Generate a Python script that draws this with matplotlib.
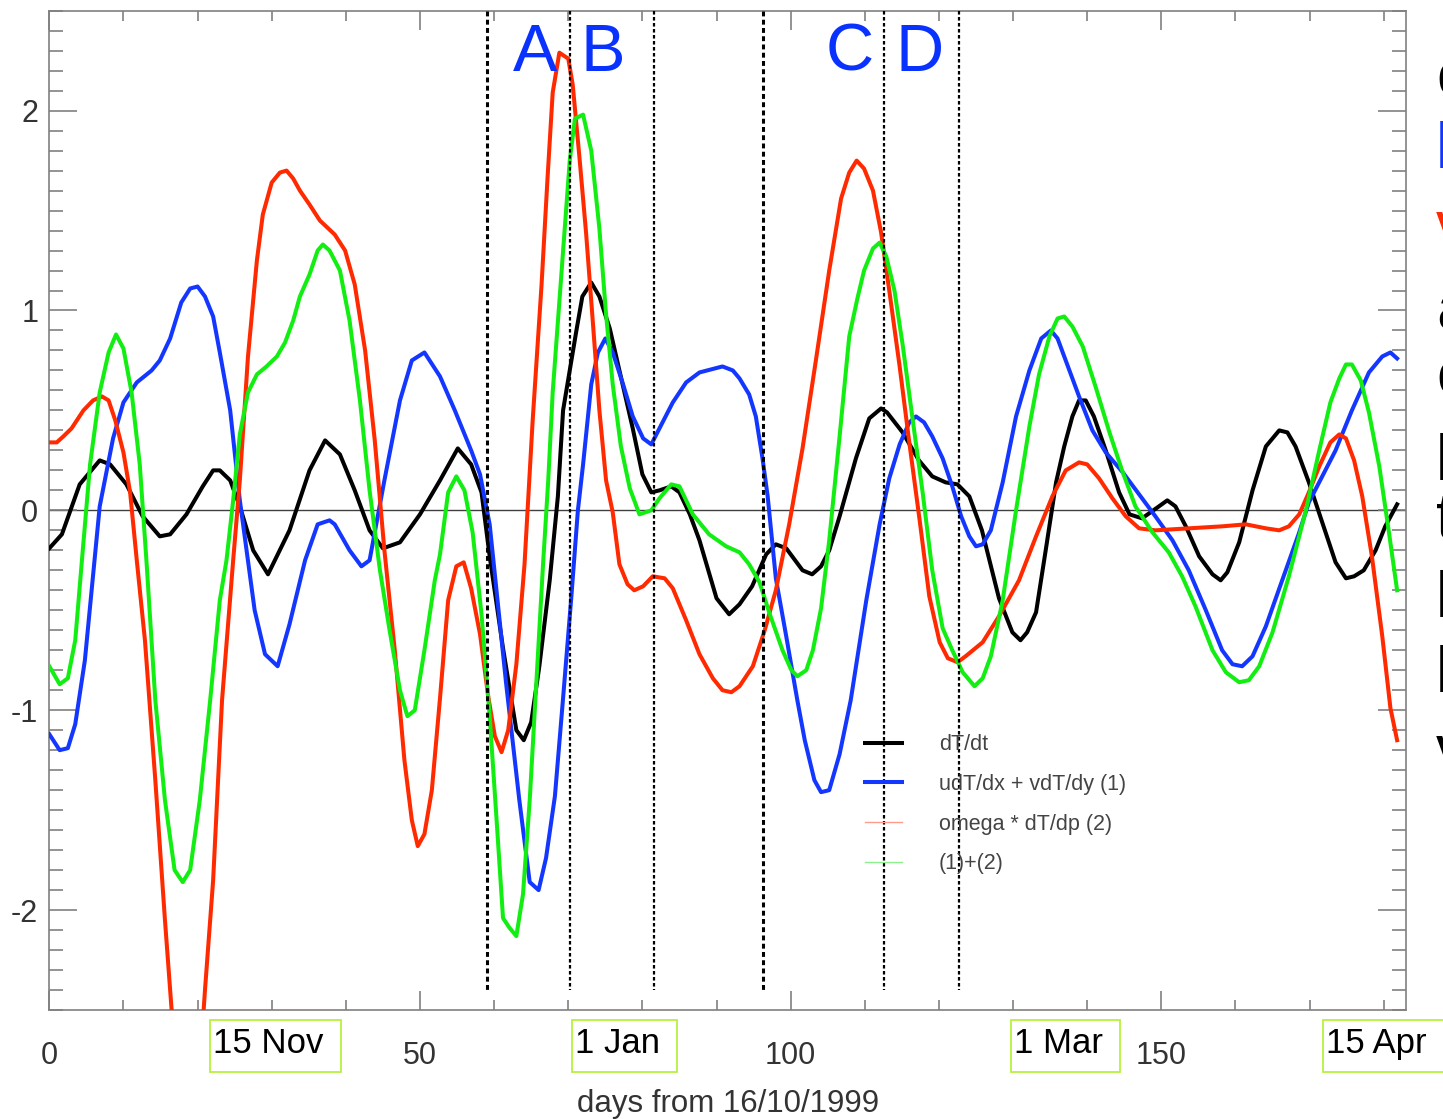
import matplotlib
matplotlib.use("Agg")
import matplotlib.pyplot as plt
from matplotlib.lines import Line2D
from matplotlib.patches import Rectangle
from matplotlib.transforms import blended_transform_factory, offset_copy, IdentityTransform
from matplotlib.ticker import MultipleLocator

plt.rcParams['font.family'] = ['Liberation Sans', 'DejaVu Sans']

# ---- data ----
black_days = [0, 1.7, 4.1, 6.8, 8.2, 10.4, 12.6, 14.9, 16.3, 18.5, 20.7, 22.1, 23.0, 24.4, 25.7, 27.5, 29.5,
              32.4, 35.1, 37.2, 39.2, 41.2, 43.2, 45.0, 47.3, 50.0, 52.7, 55.1, 56.9, 58.3, 59.4, 61.2, 63.0,
              64.0, 65.0, 66.1, 67.5, 68.6, 69.3, 71.1, 71.9, 73.1, 74.2, 75.6, 76.9, 78.7, 80.0, 81.2, 82.3,
              83.9, 85.0, 86.4, 87.7, 90.0, 91.7, 93.1, 94.8, 96.7, 98.0, 99.4, 101.6, 102.9, 104.1, 105.2,
              106.6, 108.8, 110.6, 112.2, 113.0, 115.1, 117.3, 119.1, 120.9, 122.5, 124.1, 125.8, 128.1,
              129.9, 131.0, 131.9, 133.1, 134.4, 135.8, 136.9, 138.0, 138.9, 139.8, 140.9, 142.5, 144.3,
              145.7, 147.4, 149.3, 150.8, 151.9, 153.3, 155.1, 156.9, 158.0, 158.9, 160.5, 162.3, 164.1,
              165.9, 167.0, 168.1, 169.9, 171.7, 173.5, 174.9, 176.0, 177.3, 178.9, 180.2, 181.8]
black_vals = [-0.19, -0.12, 0.13, 0.25, 0.23, 0.13, -0.03, -0.13, -0.12, -0.02, 0.12, 0.2, 0.2, 0.15, 0.02,
              -0.2, -0.32, -0.1, 0.2, 0.35, 0.28, 0.1, -0.1, -0.19, -0.16, -0.02, 0.15, 0.31, 0.23, 0.09,
              -0.23, -0.69, -1.1, -1.15, -1.06, -0.78, -0.35, 0.07, 0.5, 0.9, 1.07, 1.14, 1.07, 0.91, 0.7,
              0.41, 0.18, 0.09, 0.1, 0.12, 0.09, -0.02, -0.15, -0.44, -0.52, -0.47, -0.38, -0.22, -0.17,
              -0.19, -0.3, -0.32, -0.28, -0.2, -0.03, 0.26, 0.46, 0.51, 0.49, 0.39, 0.25, 0.17, 0.14, 0.13,
              0.07, -0.1, -0.44, -0.61, -0.65, -0.61, -0.51, -0.2, 0.14, 0.32, 0.47, 0.55, 0.55, 0.47, 0.3,
              0.09, -0.02, -0.04, 0.01, 0.05, 0.02, -0.08, -0.23, -0.32, -0.35, -0.31, -0.16, 0.1, 0.32,
              0.4, 0.39, 0.32, 0.14, -0.06, -0.26, -0.34, -0.33, -0.3, -0.2, -0.08, 0.03]

blue_days = [0, 1.4, 2.5, 3.5, 4.8, 6.8, 8.6, 10.0, 11.8, 13.8, 14.9, 16.3, 17.8, 19.0, 20.0, 21.0, 22.1,
             23.0, 24.4, 25.7, 27.7, 29.1, 30.8, 32.4, 34.5, 36.2, 37.8, 38.5, 40.5, 42.1, 43.2, 45.2, 47.3,
             48.9, 50.6, 52.7, 54.7, 56.9, 58.1, 59.4, 61.6, 63.4, 64.8, 66.0, 67.0, 68.2, 69.3, 70.4, 71.3,
             72.0, 73.1, 74.0, 75.0, 76.0, 77.4, 78.7, 80.1, 81.2, 82.3, 84.1, 85.9, 87.7, 90.8, 92.2, 93.1,
             94.4, 95.3, 96.2, 96.9, 98.0, 99.4, 100.9, 101.9, 103.2, 104.1, 105.2, 106.6, 108.1, 110.2,
             112.0, 113.3, 114.7, 116.0, 116.9, 118.0, 119.1, 120.5, 121.8, 123.0, 124.1, 125.0, 125.9,
             127.0, 128.6, 130.4, 132.2, 133.8, 135.1, 136.0, 137.1, 138.9, 140.7, 142.5, 144.8, 147.0,
             149.2, 151.5, 153.7, 156.0, 158.2, 159.6, 160.9, 162.3, 164.1, 166.3, 168.6, 169.9, 171.7,
             173.5, 175.7, 178.0, 179.8, 180.9, 181.8]
blue_vals = [-1.12, -1.2, -1.19, -1.07, -0.75, 0.02, 0.36, 0.54, 0.64, 0.7, 0.75, 0.86, 1.04, 1.11, 1.12,
             1.07, 0.97, 0.79, 0.5, 0.05, -0.5, -0.72, -0.78, -0.57, -0.25, -0.07, -0.05, -0.07, -0.2,
             -0.28, -0.25, 0.15, 0.55, 0.75, 0.79, 0.67, 0.5, 0.3, 0.18, -0.07, -0.86, -1.45, -1.86, -1.9,
             -1.74, -1.43, -0.94, -0.44, 0.0, 0.23, 0.63, 0.79, 0.86, 0.79, 0.63, 0.47, 0.36, 0.33, 0.41,
             0.54, 0.64, 0.69, 0.72, 0.7, 0.66, 0.58, 0.47, 0.26, 0.07, -0.34, -0.63, -0.95, -1.15, -1.35,
             -1.41, -1.4, -1.22, -0.95, -0.45, -0.07, 0.16, 0.33, 0.44, 0.47, 0.44, 0.37, 0.26, 0.12, -0.03,
             -0.13, -0.18, -0.17, -0.1, 0.14, 0.47, 0.7, 0.86, 0.9, 0.86, 0.75, 0.57, 0.4, 0.29, 0.19, 0.08,
             -0.03, -0.15, -0.3, -0.5, -0.7, -0.77, -0.78, -0.73, -0.58, -0.35, -0.11, 0.04, 0.17, 0.3, 0.5,
             0.69, 0.77, 0.79, 0.76]

red_days = [0, 1.0, 1.9, 3.0, 4.6, 5.9, 7.1, 8.0, 8.9, 10.0, 10.9, 11.8, 12.9, 14.3, 15.6, 16.9, 19.0, 20.0,
            21.0, 22.1, 23.3, 24.8, 25.7, 26.8, 28.0, 28.8, 30.0, 31.1, 32.0, 32.9, 33.8, 35.1, 36.5, 38.5,
            39.9, 41.2, 42.6, 43.9, 45.2, 46.6, 47.9, 48.9, 49.7, 50.6, 51.6, 52.7, 53.8, 54.9, 55.9, 56.9,
            58.1, 59.2, 60.1, 61.0, 61.9, 63.0, 64.1, 65.2, 66.4, 67.2, 67.9, 68.8, 70.0, 70.6, 71.5, 72.4,
            73.3, 74.2, 75.1, 76.0, 76.9, 78.0, 78.9, 80.1, 81.4, 83.0, 84.1, 85.9, 87.7, 89.5, 90.8, 92.0,
            93.1, 94.9, 96.5, 98.0, 99.8, 101.6, 103.4, 105.2, 106.8, 107.9, 108.9, 109.9, 111.1, 112.2,
            113.3, 114.7, 116.0, 117.4, 118.7, 120.1, 121.2, 122.5, 123.6, 125.9, 128.1, 130.8, 133.1,
            135.3, 137.1, 138.9, 140.0, 141.6, 143.4, 145.2, 147.0, 149.2, 153.7, 158.2, 161.4, 164.1,
            165.9, 167.2, 168.6, 169.9, 171.3, 172.8, 174.0, 174.9, 176.0, 177.1, 178.4, 179.8, 180.9, 181.8]
red_vals = [0.34, 0.34, 0.37, 0.41, 0.5, 0.55, 0.57, 0.55, 0.45, 0.29, 0.09, -0.25, -0.65, -1.35, -2.05,
            -2.7, -3.1, -2.95, -2.4, -1.85, -0.95, -0.25, 0.15, 0.77, 1.25, 1.48, 1.64, 1.69, 1.7, 1.66, 1.6,
            1.53, 1.45, 1.38, 1.3, 1.13, 0.8, 0.35, -0.2, -0.7, -1.25, -1.55, -1.68, -1.62, -1.4, -0.94,
            -0.45, -0.28, -0.26, -0.39, -0.62, -0.93, -1.13, -1.21, -1.1, -0.77, -0.27, 0.45, 1.13, 1.66,
            2.09, 2.29, 2.26, 2.13, 1.77, 1.39, 0.95, 0.5, 0.15, -0.01, -0.27, -0.37, -0.4, -0.38, -0.33,
            -0.34, -0.39, -0.55, -0.72, -0.84, -0.9, -0.91, -0.88, -0.78, -0.6, -0.4, -0.07, 0.31, 0.75, 1.2,
            1.56, 1.69, 1.75, 1.71, 1.6, 1.39, 1.1, 0.72, 0.34, -0.05, -0.43, -0.66, -0.74, -0.76, -0.73,
            -0.66, -0.53, -0.35, -0.13, 0.07, 0.2, 0.24, 0.23, 0.16, 0.06, -0.03, -0.09, -0.1, -0.09, -0.08,
            -0.07, -0.09, -0.1, -0.08, -0.02, 0.09, 0.22, 0.34, 0.38, 0.36, 0.25, 0.07, -0.23, -0.63, -0.99,
            -1.15]

green_days = [0, 1.4, 2.5, 3.5, 4.4, 5.5, 6.8, 8.0, 9.0, 10.0, 11.1, 12.2, 13.1, 14.3, 15.6, 16.9, 18.0,
              19.0, 20.3, 21.7, 23.0, 23.9, 24.8, 25.7, 26.8, 28.0, 29.3, 30.7, 31.8, 32.9, 33.8, 35.1, 36.2,
              36.9, 37.8, 39.2, 40.5, 41.9, 43.2, 44.6, 45.9, 47.3, 48.3, 49.3, 50.6, 52.0, 52.7, 53.8, 54.9,
              56.0, 57.1, 58.3, 59.4, 60.3, 61.2, 62.1, 63.0, 63.9, 64.8, 65.7, 66.6, 67.3, 67.9, 69.3, 70.2,
              70.9, 72.0, 73.1, 74.2, 75.1, 76.0, 77.1, 78.3, 79.6, 81.2, 82.3, 83.9, 85.0, 86.8, 89.0, 91.3,
              93.1, 94.4, 95.8, 97.1, 98.9, 100.1, 100.9, 102.1, 103.0, 104.1, 105.2, 106.6, 107.9, 109.0,
              109.9, 111.1, 112.0, 112.9, 114.0, 115.1, 116.4, 117.8, 119.1, 120.5, 121.8, 123.2, 124.8,
              125.9, 127.0, 128.6, 130.4, 132.2, 133.5, 134.9, 136.0, 136.9, 138.0, 139.4, 141.2, 143.0,
              144.7, 146.5, 148.8, 151.0, 152.8, 154.6, 156.9, 158.7, 160.5, 161.8, 163.2, 165.0, 167.2,
              169.5, 171.3, 172.8, 174.0, 174.9, 175.7, 176.9, 178.0, 179.4, 180.7, 181.8]
green_vals = [-0.78, -0.87, -0.84, -0.65, -0.25, 0.23, 0.59, 0.79, 0.88, 0.81, 0.59, 0.23, -0.25, -0.95,
              -1.45, -1.8, -1.86, -1.8, -1.45, -0.95, -0.45, -0.25, 0.05, 0.38, 0.59, 0.68, 0.72, 0.77, 0.84,
              0.95, 1.07, 1.18, 1.3, 1.33, 1.3, 1.2, 0.95, 0.55, 0.1, -0.3, -0.6, -0.9, -1.03, -1.0, -0.7,
              -0.35, -0.22, 0.09, 0.17, 0.1, -0.11, -0.52, -1.03, -1.53, -2.04, -2.09, -2.13, -1.92, -1.45,
              -0.86, -0.27, 0.15, 0.59, 1.3, 1.75, 1.96, 1.98, 1.8, 1.41, 0.98, 0.63, 0.32, 0.11, -0.02, 0.0,
              0.06, 0.13, 0.12, -0.02, -0.12, -0.18, -0.21, -0.27, -0.36, -0.51, -0.7, -0.8, -0.83, -0.8,
              -0.7, -0.49, -0.15, 0.37, 0.87, 1.06, 1.2, 1.31, 1.34, 1.27, 1.1, 0.83, 0.47, 0.09, -0.3,
              -0.59, -0.7, -0.81, -0.88, -0.84, -0.73, -0.45, 0.0, 0.42, 0.68, 0.87, 0.96, 0.97, 0.92, 0.82,
              0.61, 0.39, 0.2, 0.02, -0.11, -0.21, -0.33, -0.48, -0.7, -0.81, -0.86, -0.85, -0.78, -0.61,
              -0.33, 0.0, 0.3, 0.54, 0.66, 0.73, 0.73, 0.65, 0.49, 0.22, -0.11, -0.4]

event_days = [59.1, 70.2, 81.5, 96.3, 112.6, 122.7]
event_letters = ['A', 'B', 'C', 'D']
letter_days = [65.5, 74.6, 107.9, 117.4]

date_labels = ['15 Nov', '1 Jan', '1 Mar', '15 Apr']
date_box_days = [21.7, 70.5, 129.7, 171.8]

legend_labels = ['dT/dt', 'udT/dx + vdT/dy (1)', 'omega * dT/dp (2)', '(1)+(2)']

side_chars = ['o', 'l', 'v', 'a', 'o', 'l', 't', 'l', 'l', 'v']
side_colors = ['black', '#1437ff', '#ff2a00', 'black', 'black', 'black', 'black', 'black', 'black', 'black']
side_baselines = [96, 168, 246, 330, 396, 480, 538, 617, 692, 770]

# ---- figure ----
W, H = 1443, 1119
fig = plt.figure(figsize=(W / 100, H / 100), dpi=100)
ax = fig.add_axes([49.3 / W, 1 - 1010 / H, (1406 - 49.3) / W, (1010 - 10.7) / H])

ax.set_xlim(0, 183)
ax.set_ylim(-2.5, 2.5)

ax.axhline(0, color='#404040', lw=1.0, zorder=1)

for d, w in zip(event_days, [2.2, 1.6, 1.6, 2.2, 1.6, 1.6]):
    ax.plot([d, d], [2.5, -2.4], color='black', lw=w, linestyle=(0, (1.6, 1.1)), zorder=5)

ax.plot(black_days, black_vals, color='black', lw=2.9, zorder=4)
ax.plot(blue_days, blue_vals, color='#1437ff', lw=2.9, zorder=4)
ax.plot(red_days, red_vals, color='#ff2a00', lw=2.9, zorder=4)
ax.plot(green_days, green_vals, color='#12ee12', lw=2.9, zorder=4)

for lt, d in zip(event_letters, letter_days):
    ax.text(d, 2.2, lt, color='#0a32ff', fontsize=48, ha='center', va='baseline', zorder=6)

handles = [Line2D([], [], color='black', lw=2.9),
           Line2D([], [], color='#1437ff', lw=2.9),
           Line2D([], [], color='#ff9a8c', lw=1.0),
           Line2D([], [], color='#8cf08c', lw=1.0)]
leg = ax.legend(handles, legend_labels, loc='upper left', bbox_to_anchor=(0.601, 0.276),
                frameon=False, fontsize=15.5, handlelength=1.75, handletextpad=1.7,
                labelspacing=0.87, borderpad=0, borderaxespad=0)
for t in leg.get_texts():
    t.set_color('#444444')

# ---- axes styling ----
for s in ax.spines.values():
    s.set_color('#808080')
    s.set_linewidth(1.2)
ax.xaxis.set_major_locator(MultipleLocator(50))
ax.xaxis.set_minor_locator(MultipleLocator(10))
ax.yaxis.set_major_locator(MultipleLocator(1))
ax.yaxis.set_minor_locator(MultipleLocator(0.1))
ax.tick_params(axis='both', which='both', direction='in', top=True, right=True,
               color='#808080', width=1.2, labelcolor='#333333', labelsize=22)
ax.tick_params(axis='x', which='major', length=14, pad=22)
ax.tick_params(axis='x', which='minor', length=7)
ax.tick_params(axis='y', which='major', length=20, pad=8)
ax.tick_params(axis='y', which='minor', length=10)
ax.set_yticks([-2, -1, 0, 1, 2])
ax.set_yticklabels(['-2', '-1', '0', '1', '2'])

ax.set_xlabel('days from 16/10/1999', fontsize=22.5, color='#333333', labelpad=13)

# ---- date boxes below the axis ----
trans = blended_transform_factory(ax.transData, fig.transFigure)
renderer = fig.canvas.get_renderer()
for lab, d in zip(date_labels, date_box_days):
    t = ax.text(d, 1 - 1053 / H, lab, fontsize=25, color='black', ha='left', va='baseline',
                transform=offset_copy(trans, fig=fig, x=3, y=0, units='dots'), clip_on=False)
    bb = t.get_window_extent(renderer)
    fig.patches.append(Rectangle((bb.x0 - 3, H - 1072), bb.width + 20, 52, fill=False,
                                 edgecolor='#b8f040', lw=1.3, transform=IdentityTransform(),
                                 figure=fig))

# ---- text cut at the right edge, as in the source image ----
for ch, c, yb in zip(side_chars, side_colors, side_baselines):
    fig.text(1436 / W, 1 - yb / H, ch, color=c, fontsize=46, ha='left', va='baseline')

fig.savefig('out.png', dpi=100)
